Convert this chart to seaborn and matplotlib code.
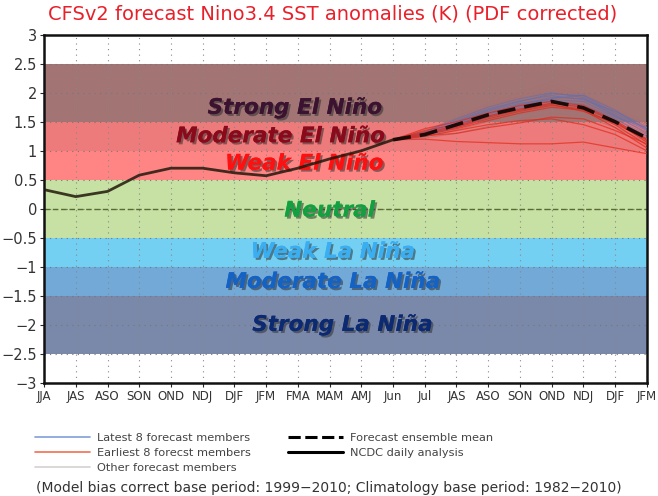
"""
CFSv2 Nino3.4 SST anomaly forecast plume with ENSO strength bands.
"""

import matplotlib.pyplot as plt
import matplotlib.patheffects as pe
import numpy as np
import pandas as pd
import seaborn as sns

months = ["JJA", "JAS", "ASO", "SON", "OND", "NDJ", "DJF", "JFM", "FMA", "MAM",
          "AMJ", "Jun", "Jul", "JAS", "ASO", "SON", "OND", "NDJ", "DJF", "JFM"]

# observed (NCDC daily analysis), JJA .. Jun
observed = [0.33, 0.21, 0.30, 0.58, 0.70, 0.70, 0.62, 0.57, 0.70, 0.86, 1.00, 1.19]

# forecast, Jun .. JFM
ens_mean = [1.19, 1.28, 1.45, 1.62, 1.74, 1.85, 1.74, 1.50, 1.22]

latest_members = [
    [1.19, 1.30, 1.50, 1.70, 1.85, 1.98, 1.95, 1.65, 1.38],
    [1.19, 1.28, 1.45, 1.65, 1.80, 1.92, 1.90, 1.60, 1.30],
    [1.19, 1.32, 1.55, 1.75, 1.90, 2.00, 1.92, 1.62, 1.35],
    [1.19, 1.27, 1.42, 1.60, 1.75, 1.86, 1.80, 1.55, 1.25],
    [1.19, 1.30, 1.48, 1.68, 1.82, 1.88, 1.85, 1.58, 1.40],
    [1.19, 1.25, 1.40, 1.58, 1.72, 1.82, 1.76, 1.50, 1.20],
    [1.19, 1.33, 1.52, 1.72, 1.86, 1.95, 1.88, 1.68, 1.42],
    [1.19, 1.29, 1.46, 1.63, 1.78, 1.90, 1.96, 1.70, 1.36],
]
earliest_members = [
    [1.19, 1.20, 1.16, 1.14, 1.12, 1.12, 1.15, 1.05, 0.95],
    [1.19, 1.25, 1.35, 1.45, 1.52, 1.55, 1.45, 1.28, 1.00],
    [1.19, 1.35, 1.45, 1.60, 1.72, 1.82, 1.75, 1.50, 1.15],
    [1.19, 1.30, 1.40, 1.55, 1.68, 1.78, 1.72, 1.45, 1.10],
    [1.19, 1.38, 1.50, 1.65, 1.78, 1.85, 1.78, 1.52, 1.20],
    [1.19, 1.28, 1.38, 1.52, 1.65, 1.75, 1.70, 1.40, 1.05],
    [1.19, 1.32, 1.42, 1.58, 1.70, 1.80, 1.68, 1.48, 1.18],
    [1.19, 1.26, 1.30, 1.40, 1.48, 1.58, 1.55, 1.35, 1.12],
]
other_members = [
    [1.19, 1.33, 1.58, 1.82, 2.00, 2.18, 1.98, 1.70, 1.45],
    [1.19, 1.30, 1.52, 1.76, 1.95, 2.12, 1.94, 1.66, 1.40],
    [1.19, 1.28, 1.45, 1.68, 1.88, 2.05, 1.90, 1.60, 1.32],
    [1.19, 1.26, 1.40, 1.62, 1.80, 1.95, 1.85, 1.55, 1.28],
    [1.19, 1.22, 1.30, 1.42, 1.55, 1.65, 1.60, 1.40, 1.15],
    [1.19, 1.24, 1.36, 1.50, 1.62, 1.72, 1.66, 1.45, 1.22],
    [1.19, 1.34, 1.55, 1.78, 1.92, 2.08, 1.95, 1.72, 1.48],
    [1.19, 1.27, 1.42, 1.60, 1.76, 1.90, 1.82, 1.52, 1.20],
]

# ENSO strength bands
band_lo = [1.5, 1.0, 0.5, -0.5, -1.0, -1.5, -2.5]
band_hi = [2.5, 1.5, 1.0, 0.5, -0.5, -1.0, -1.5]
band_colors = ["#a27474", "#ee7b7b", "#ff8585", "#c6e1a3",
               "#73d0f2", "#72a9d7", "#7a88aa"]
band_labels = ["Strong El Niño", "Moderate El Niño", "Weak El Niño", "Neutral",
               "Weak La Niña", "Moderate La Niña", "Strong La Niña"]
label_colors = ["#3b1230", "#8a0a1c", "#ff1010", "#12a040",
                "#3aaef0", "#1462c4", "#0b2a72"]
label_y = [1.74, 1.25, 0.78, -0.03, -0.74, -1.26, -2.0]
label_x = [7.9, 7.45, 8.2, 9.0, 9.1, 9.1, 9.4]

sns.set_style("white")
plt.rcParams["font.family"] = ["DejaVu Sans"]

fig = plt.figure(figsize=(6.58, 4.96), dpi=100)
ax = fig.add_axes([0.067, 0.228, 0.916, 0.702])

xs = np.arange(len(months))
fx = xs[11:]

bands = pd.DataFrame({"lo": band_lo, "hi": band_hi, "color": band_colors})
for _, b in bands.iterrows():
    ax.axhspan(b["lo"], b["hi"], color=b["color"], lw=0, zorder=0)

for xv in xs:
    ax.axvline(xv, color="#888888", ls=(0, (1, 4)), lw=0.8, zorder=1)
for yv in np.arange(-3, 3.01, 0.5):
    ax.axhline(yv, color="#777777", ls=(0, (1, 4)), lw=0.8, zorder=1)
ax.axhline(0, color="#5a6a30", ls=(0, (4, 2)), lw=1.0, zorder=1)

for lab, col, yy, xx in zip(band_labels, label_colors, label_y, label_x):
    ax.text(xx, yy, lab, ha="center", va="center", fontsize=15.5,
            fontweight="heavy", fontstyle="italic", color=col, zorder=2,
            path_effects=[pe.withSimplePatchShadow(offset=(1.5, -1.5),
                                                   shadow_rgbFace="#303030",
                                                   alpha=0.55),
                          pe.Normal()])

for m in other_members:
    sns.lineplot(x=fx, y=m, ax=ax, color="#a87070", lw=0.7, alpha=0.7, zorder=3)
for m in latest_members:
    sns.lineplot(x=fx, y=m, ax=ax, color="#5a6fb8", lw=0.7, alpha=0.6, zorder=3)
for m in earliest_members:
    sns.lineplot(x=fx, y=m, ax=ax, color="#e02a1a", lw=0.9, alpha=0.7, zorder=4)

sns.lineplot(x=fx, y=ens_mean, ax=ax, color="#1a0a08", lw=2.6,
             ls=(0, (5, 2.5)), zorder=5)
sns.lineplot(x=xs[:12], y=observed, ax=ax, color="#22180c", lw=2.0,
             alpha=0.85, zorder=5)

ax.set_xlim(0, len(months) - 1)
ax.set_ylim(-3, 3)
ax.set_xticks(xs)
ax.set_xticklabels(months, fontsize=8.5, color="#333333")
yt = np.arange(-3, 3.01, 0.5)
ax.set_yticks(yt)
ax.set_yticklabels([f"{v:g}".replace("-", "\u2212") for v in yt],
                   fontsize=10.5, color="#333333")
ax.tick_params(axis="both", length=3, width=0.8, direction="out", pad=2,
               bottom=True, left=True)
ax.set_xlabel("")
ax.set_ylabel("")
for sp in ax.spines.values():
    sp.set_color("#111111")
    sp.set_linewidth(1.8)

fig.suptitle("CFSv2 forecast Nino3.4 SST anomalies (K) (PDF corrected)",
             x=0.505, y=0.99, fontsize=14, color="#e8202a")

handles = [
    plt.Line2D([], [], color="#7f9fd8", lw=1.2),
    plt.Line2D([], [], color="#f07050", lw=1.2),
    plt.Line2D([], [], color="#d8d0d0", lw=1.2),
    plt.Line2D([], [], color="black", lw=2.2, ls=(0, (4, 1.5))),
    plt.Line2D([], [], color="black", lw=2.2),
]
names = ["Latest 8 forecast members", "Earliest 8 forecst members",
         "Other forecast members", "Forecast ensemble mean", "NCDC daily analysis"]
fig.legend(handles, names, ncol=2, loc="upper left",
           bbox_to_anchor=(0.044, 0.138), frameon=False, fontsize=8.2,
           handlelength=4.9, handletextpad=0.6, columnspacing=3.2,
           labelspacing=0.42, borderpad=0, labelcolor="#444444")
fig.text(0.5, 0.016, "(Model bias correct base period: 1999\u22122010; "
         "Climatology base period: 1982\u22122010)",
         ha="center", va="center", fontsize=10, color="#333333")

fig.savefig("out.png", dpi=100)
